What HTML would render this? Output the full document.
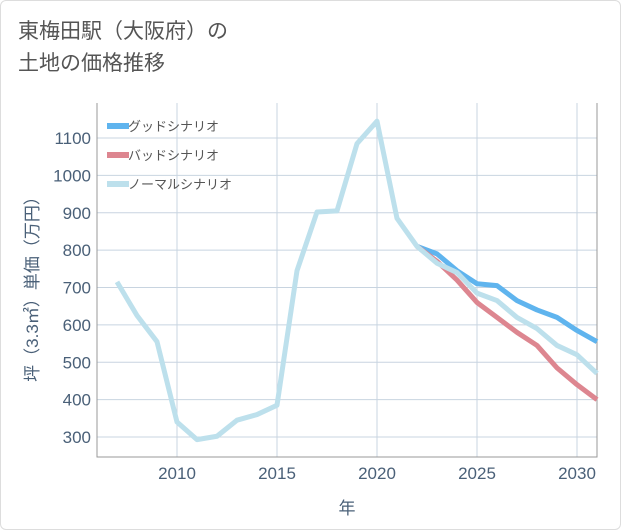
<!DOCTYPE html>
<html><head><meta charset="utf-8"><style>
html,body{margin:0;padding:0;background:#fff}
body{width:621px;height:530px;overflow:hidden;font-family:"Liberation Sans","Noto Sans CJK JP",sans-serif}
#frame{position:absolute;left:0;top:0;width:619px;height:528px;border:1px solid #ddd;border-radius:6px}
#title{position:absolute;left:18px;top:16px;font-size:21px;line-height:32px;color:#555}
</style></head><body>
<div id="frame"></div>
<div id="title">東梅田駅（大阪府）の<br>土地の価格推移</div>
<svg id="chart" width="621" height="530" style="position:absolute;left:0;top:0"></svg>
<script>
const years=[2007,2008,2009,2010,2011,2012,2013,2014,2015,2016,2017,2018,2019,2020,2021,2022,2023,2024,2025,2026,2027,2028,2029,2030,2031];
const normalVals=[715,625,555,340,293,302,345,360,385,745,902,905,1085,1145,885,810,765,740,685,665,620,590,545,520,470];
const goodYears=[2022,2023,2024,2025,2026,2027,2028,2029,2030,2031];
const goodVals=[810,790,745,710,705,665,640,620,585,555];
const badVals=[810,770,720,660,620,580,545,485,440,400];
const yTicks=[300,400,500,600,700,800,900,1000,1100];
const xTicks=[2010,2015,2020,2025,2030];
const L=97,R=597,T=103,B=457;
const x=y=>177+(y-2010)*20;
const yv=v=>437-(v-300)*0.37375;
const svg=document.getElementById('chart');
const NS='http://www.w3.org/2000/svg';
function mk(tag,attrs){const e=document.createElementNS(NS,tag);for(const k in attrs)e.setAttribute(k,attrs[k]);svg.appendChild(e);return e;}
yTicks.forEach(v=>{const l=mk('line',{x1:L,x2:R,y1:yv(v),y2:yv(v),stroke:'#c8d4e0','stroke-width':1});


const t=mk('text',{x:L-6,y:yv(v)+6,'text-anchor':'end','font-size':17,fill:'#4a6078'});t.textContent=v;

});
xTicks.forEach(v=>{const l=mk('line',{x1:x(v),x2:x(v),y1:T,y2:B,stroke:'#c8d4e0','stroke-width':1});


const t=mk('text',{x:x(v),y:B+22,'text-anchor':'middle','font-size':17,fill:'#4a6078'});t.textContent=v;

});
const ax=mk('path',{d:`M${L},${T}V${B}H${R}V${T}`,fill:'none',stroke:'#999','stroke-width':1});


function line(xs,vs,color,name){const d=xs.map((yy,i)=>(i?'L':'M')+x(yy)+','+yv(vs[i])).join('');
const p=mk('path',{d,fill:'none',stroke:color,'stroke-width':5,'stroke-linejoin':'round'});

}
line(goodYears,goodVals,'#5fb4ee','good-scenario-line');
line(goodYears,badVals,'#dd8690','bad-scenario-line');
line(years,normalVals,'#bde0ec','normal-scenario-line');
const leg=[['グッドシナリオ','#5fb4ee'],['バッドシナリオ','#dd8690'],['ノーマルシナリオ','#bde0ec']];
leg.forEach((e,i)=>{const yy=126+i*29;
const r=mk('rect',{x:107,y:yy-3,width:22,height:6,fill:e[1]});


const t=mk('text',{x:128,y:yy+5,'font-size':13,fill:'#555'});t.textContent=e[0];

});
const xt=mk('text',{x:347,y:514,'text-anchor':'middle','font-size':17,fill:'#4a6078'});xt.textContent='年';


const yt=mk('text',{x:0,y:0,'text-anchor':'middle','font-size':17,fill:'#4a6078',transform:'translate(38,285) rotate(-90)'});yt.textContent='坪（3.3㎡）単価（万円）';


</script>
</body></html>
